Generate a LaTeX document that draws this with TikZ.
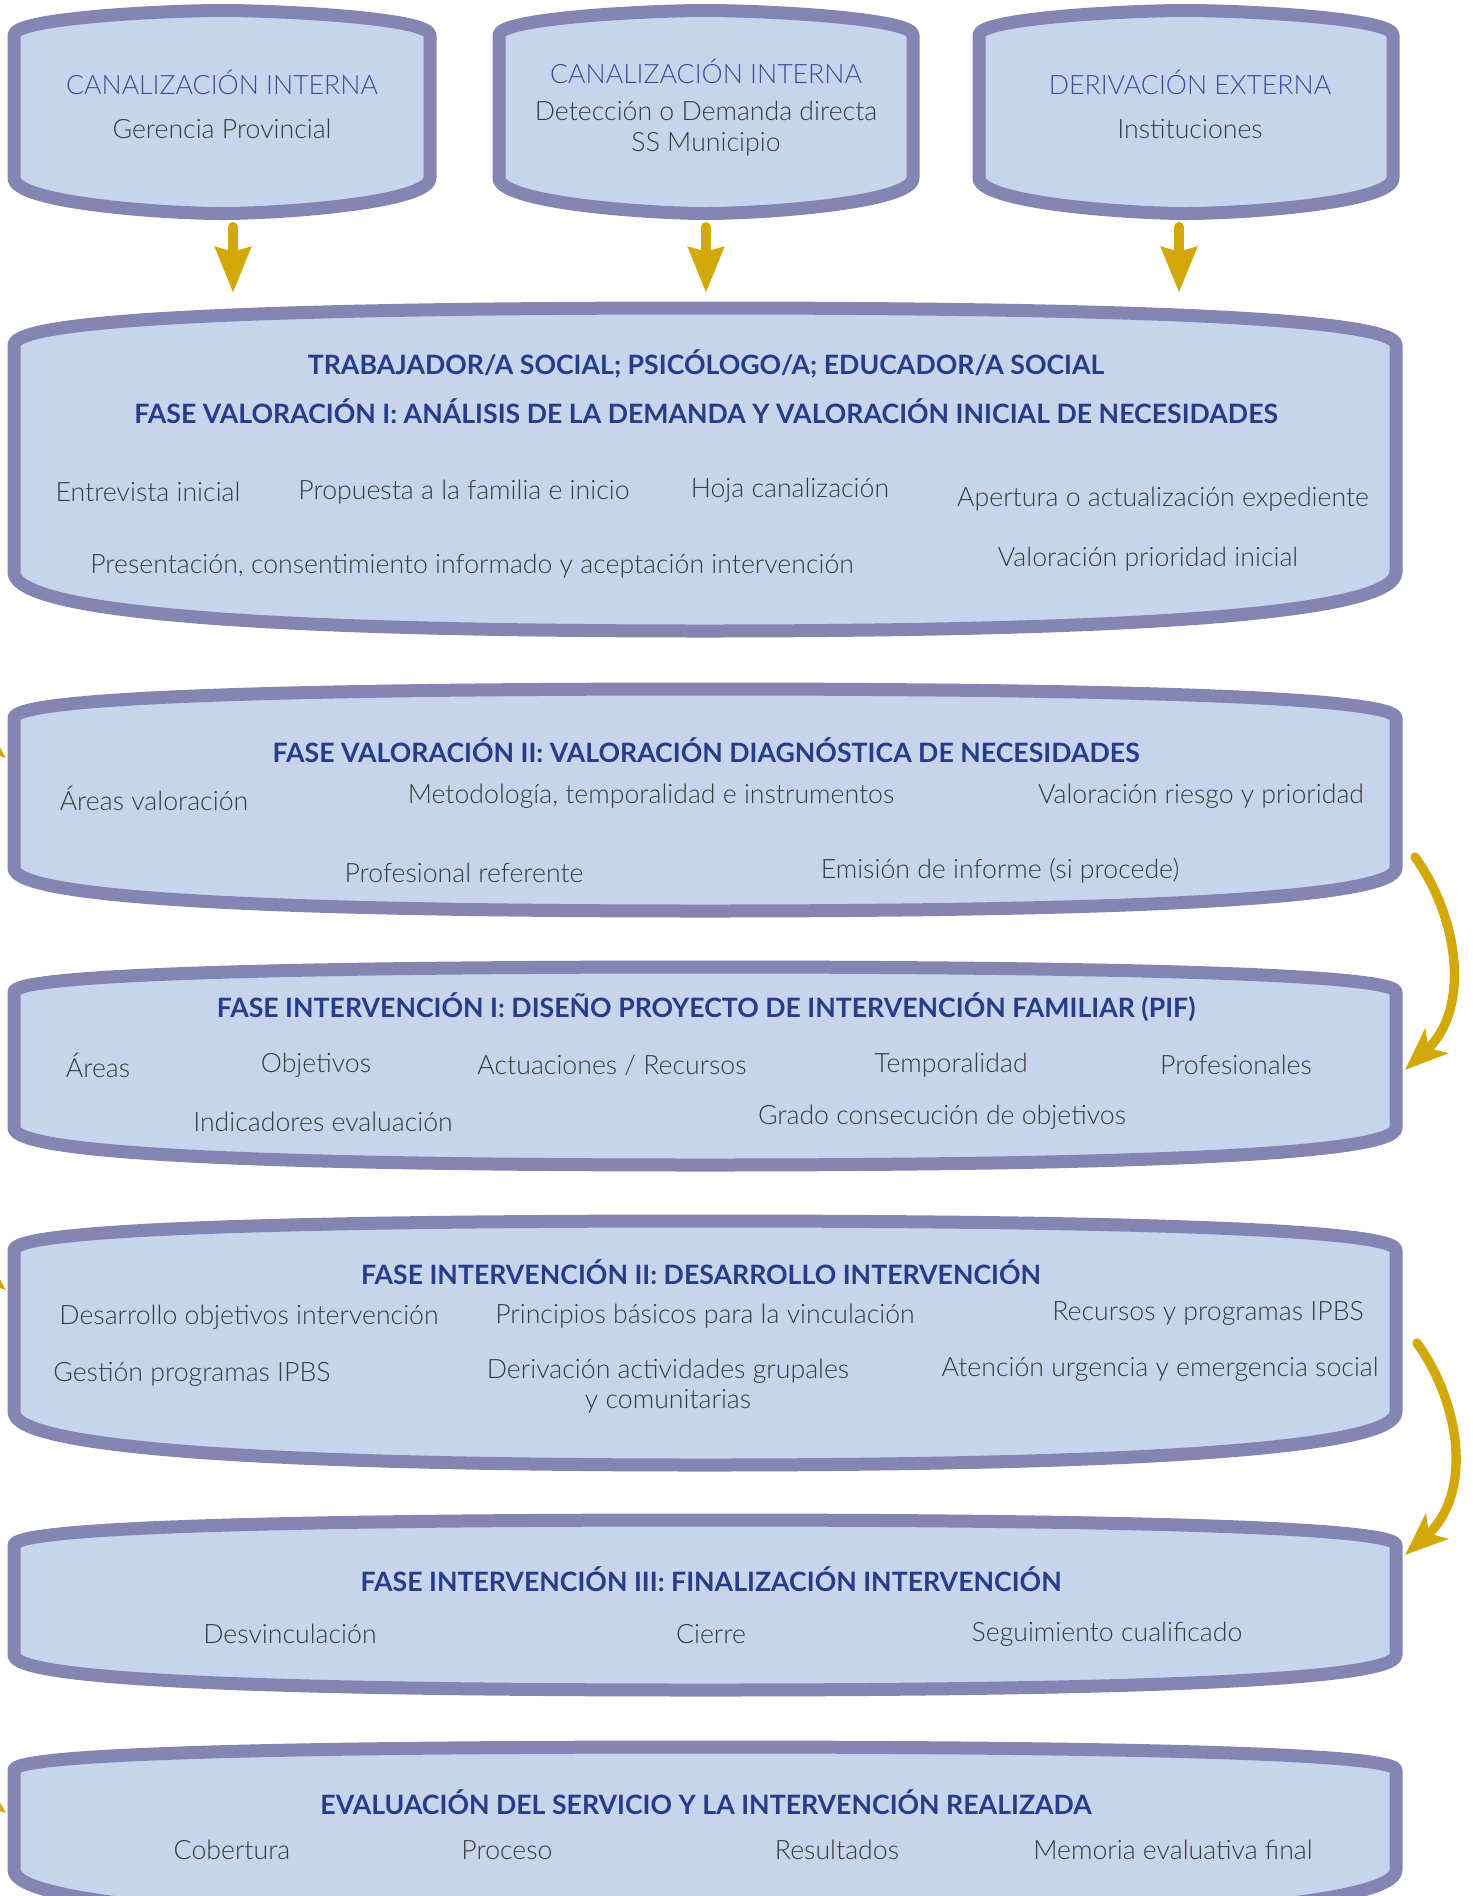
\documentclass[tikz,border=0pt]{standalone}
\usepackage{fontspec}
\setmainfont{Lato}
\IfFontExistsTF{Lato Light}{\newfontfamily\lightfont{Lato Light}}{\newfontfamily\lightfont{Lato}}
\usetikzlibrary{arrows.meta}

\definecolor{boxborder}{HTML}{8585B3}
\definecolor{boxfill}{HTML}{C6D5EB}
\definecolor{titblue}{HTML}{3A4D9C}
\definecolor{headblue}{HTML}{283D8A}
\definecolor{itemgray}{HTML}{3A3A3A}
\definecolor{gold}{HTML}{D3A80B}

\begin{document}
\begin{tikzpicture}[x=0.75pt,y=0.75pt,yscale=-1,xscale=1,
  fase/.style={draw=boxborder, fill=boxfill, line width=9.75pt, line join=round},
  tit/.style={inner sep=0.75pt, text=titblue, font=\lightfont\fontsize{20}{24}\selectfont},
  head/.style={inner sep=0.75pt, text=headblue, font=\bfseries\fontsize{20}{24}\selectfont},
  item/.style={inner sep=0.75pt, text=itemgray, font=\lightfont\fontsize{20}{24}\selectfont, align=center},
  bajada/.style={draw=gold, line width=7.5pt, line cap=round, -{Stealth[length=34pt, width=26pt, inset=3pt]}},
  vuelta/.style={draw=gold, line width=7pt, line cap=round, -{Stealth[length=32pt, width=25pt, inset=8pt]}}]
\useasboundingbox (0,0) rectangle (1473,1896);
\clip (0,0) rectangle (1473,1896);

%Shape: Box [id:canal1]
\draw [fase] (14,178) -- (14,35) .. controls (14,18) and (164,10.5) .. (222,10.5) .. controls (280,10.5) and (430,18) .. (430,35) -- (430,178) .. controls (430,203) and (280,213.5) .. (222,213.5) .. controls (164,213.5) and (14,203) .. (14,178) -- cycle ;
%Shape: Box [id:canal2]
\draw [fase] (499,178) -- (499,35) .. controls (499,18) and (649,10.5) .. (706,10.5) .. controls (763,10.5) and (913,18) .. (913,35) -- (913,178) .. controls (913,203) and (763,213.5) .. (706,213.5) .. controls (649,213.5) and (499,203) .. (499,178) -- cycle ;
%Shape: Box [id:deriv]
\draw [fase] (979,178) -- (979,35) .. controls (979,18) and (1129,10.5) .. (1186,10.5) .. controls (1243,10.5) and (1393,18) .. (1393,35) -- (1393,178) .. controls (1393,203) and (1243,213.5) .. (1186,213.5) .. controls (1129,213.5) and (979,203) .. (979,178) -- cycle ;

%Shape: Box [id:valI]
\draw [fase] (14,572) -- (14,345) .. controls (14,319) and (264,308) .. (705,308) .. controls (1146,308) and (1396,319) .. (1396,345) -- (1396,572) .. controls (1396,613) and (1146,631) .. (705,631) .. controls (264,631) and (14,613) .. (14,572) -- cycle ;
%Shape: Box [id:valII]
\draw [fase] (14,868) -- (14,718) .. controls (14,698) and (264,689) .. (705,689) .. controls (1146,689) and (1396,698) .. (1396,718) -- (1396,868) .. controls (1396,898) and (1146,911) .. (705,911) .. controls (264,911) and (14,898) .. (14,868) -- cycle ;
%Shape: Box [id:intI]
\draw [fase] (14,1128) -- (14,992) .. controls (14,975) and (264,967) .. (705,967) .. controls (1146,967) and (1396,975) .. (1396,992) -- (1396,1128) .. controls (1396,1154) and (1146,1165) .. (705,1165) .. controls (264,1165) and (14,1154) .. (14,1128) -- cycle ;
%Shape: Box [id:intII]
\draw [fase] (14,1412) -- (14,1250) .. controls (14,1230) and (264,1221) .. (705,1221) .. controls (1146,1221) and (1396,1230) .. (1396,1250) -- (1396,1412) .. controls (1396,1448) and (1146,1465) .. (705,1465) .. controls (264,1465) and (14,1448) .. (14,1412) -- cycle ;
%Shape: Box [id:intIII]
\draw [fase] (14,1655) -- (14,1545) .. controls (14,1528) and (264,1520) .. (705,1520) .. controls (1146,1520) and (1396,1528) .. (1396,1545) -- (1396,1655) .. controls (1396,1680) and (1146,1690) .. (705,1690) .. controls (264,1690) and (14,1680) .. (14,1655) -- cycle ;
%Shape: Box [id:eval]
\draw [fase] (14,1870) -- (14,1770) .. controls (14,1754) and (264,1747) .. (705,1747) .. controls (1146,1747) and (1396,1754) .. (1396,1770) -- (1396,1870) .. controls (1396,1905) and (1146,1925) .. (705,1925) .. controls (264,1925) and (14,1905) .. (14,1870) -- cycle ;

% Connector ends
\coordinate (c1a) at (233,227);
\coordinate (c1b) at (233,293);
\coordinate (c2a) at (706,227);
\coordinate (c2b) at (706,293);
\coordinate (c3a) at (1179,227);
\coordinate (c3b) at (1179,293);
\coordinate (r1a) at (1415,857);
\coordinate (r1b) at (1405,1070);
\coordinate (r2a) at (1417,1343);
\coordinate (r2b) at (1405,1555);
\coordinate (l1a) at (-20,545);
\coordinate (l1b) at (6,758);
\coordinate (l2a) at (-20,1077);
\coordinate (l2b) at (6,1290);
\coordinate (l3a) at (-20,1600);
\coordinate (l3b) at (6,1813);

%Straight Lines
\draw [bajada] (c1a) -- (c1b) ;
\draw [bajada] (c2a) -- (c2b) ;
\draw [bajada] (c3a) -- (c3b) ;
%Curve Lines
\draw [vuelta] (r1a) .. controls +(45,63) and +(65,-60) .. (r1b) ;
\draw [vuelta] (r2a) .. controls +(45,63) and +(67,-60) .. (r2b) ;
\draw [vuelta] (l1a) .. controls +(-40,65) and +(-71,-58) .. (l1b) ;
\draw [vuelta] (l2a) .. controls +(-40,65) and +(-71,-58) .. (l2b) ;
\draw [vuelta] (l3a) .. controls +(-40,65) and +(-71,-58) .. (l3b) ;

% Text Node
\node [tit] (t1) at (222,82) {CANALIZACIÓN INTERNA};
\node [item] (g1) at (222,129) {Gerencia Provincial};
\node [tit] (t2) at (706,71) {CANALIZACIÓN INTERNA};
\node [item] (g2) at (706,111) {Detección o Demanda directa};
\node [item] (g3) at (706,144) {SS Municipio};
\node [tit] (t3) at (1190,82) {DERIVACIÓN EXTERNA};
\node [item] (g4) at (1190,129) {Instituciones};

% Text Node
\node [head] (h1) at (706,364) {TRABAJADOR/A SOCIAL; PSICÓLOGO/A; EDUCADOR/A SOCIAL};
\node [head] (h2) at (706,411) {FASE VALORACIÓN I: ANÁLISIS DE LA DEMANDA Y VALORACIÓN INICIAL DE NECESIDADES};
\node [item] (i1) at (148,492) {Entrevista inicial};
\node [item] (i2) at (464,492) {Propuesta a la familia e inicio};
\node [item] (i3) at (790,490) {Hoja canalización};
\node [item] (i4) at (1163,499) {Apertura o actualización expediente};
\node [item] (i5) at (472,566) {Presentación, consentimiento informado y aceptación intervención};
\node [item] (i6) at (1148,559) {Valoración prioridad inicial};

% Text Node
\node [head] (h3) at (706,750) {FASE VALORACIÓN II: VALORACIÓN DIAGNÓSTICA DE NECESIDADES};
\node [item] (j1) at (154,798) {Áreas valoración};
\node [item] (j2) at (651,796) {Metodología, temporalidad e instrumentos};
\node [item] (j3) at (1201,796) {Valoración riesgo y prioridad};
\node [item] (j4) at (464,873) {Profesional referente};
\node [item] (j5) at (1000,871) {Emisión de informe (si procede)};

% Text Node
\node [head] (h4) at (706,1007) {FASE INTERVENCIÓN I: DISEÑO PROYECTO DE INTERVENCIÓN FAMILIAR (PIF)};
\node [item] (k1) at (98,1065) {Áreas};
\node [item] (k2) at (316,1065) {Objetivos};
\node [item] (k3) at (612,1065) {Actuaciones / Recursos};
\node [item] (k4) at (951,1065) {Temporalidad};
\node [item] (k5) at (1236,1065) {Profesionales};
\node [item] (k6) at (323,1122) {Indicadores evaluación};
\node [item] (k7) at (942,1117) {Grado consecución de objetivos};

% Text Node
\node [head] (h5) at (701,1272) {FASE INTERVENCIÓN II: DESARROLLO INTERVENCIÓN};
\node [item] (m1) at (249,1317) {Desarrollo objetivos intervención};
\node [item] (m2) at (705,1316) {Principios básicos para la vinculación};
\node [item] (m3) at (1208,1313) {Recursos y programas IPBS};
\node [item] (m4) at (192,1374) {Gestión programas IPBS};
\node [item] (m5) at (668,1386) {Derivación actividades grupales\\[-1pt] y comunitarias};
\node [item] (m6) at (1160,1369) {Atención urgencia y emergencia social};

% Text Node
\node [head] (h6) at (711,1579) {FASE INTERVENCIÓN III: FINALIZACIÓN INTERVENCIÓN};
\node [item] (n1) at (290,1634) {Desvinculación};
\node [item] (n2) at (711,1634) {Cierre};
\node [item] (n3) at (1107,1634) {Seguimiento cualificado};

% Text Node
\node [head] (h7) at (706,1802) {EVALUACIÓN DEL SERVICIO Y LA INTERVENCIÓN REALIZADA};
\node [item] (p1) at (232,1850) {Cobertura};
\node [item] (p2) at (507,1850) {Proceso};
\node [item] (p3) at (837,1850) {Resultados};
\node [item] (p4) at (1173,1850) {Memoria evaluativa final};

\end{tikzpicture}
\end{document}
